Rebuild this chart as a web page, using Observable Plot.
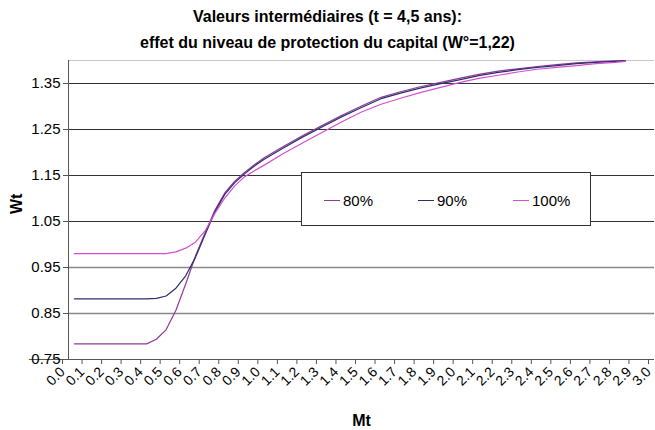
<!DOCTYPE html>
<html>
<head>
<meta charset="utf-8">
<script src="https://cdn.jsdelivr.net/npm/d3@7"></script>
<script src="https://cdn.jsdelivr.net/npm/@observablehq/plot@0.6"></script>
<style>
  html, body { margin: 0; padding: 0; background: #fff; }
  #wrap { position: relative; width: 655px; height: 430px; font-family: "Liberation Sans", Arial, sans-serif; }
  #title { height: 52px; padding-top: 4px; box-sizing: border-box; text-align: center; font-weight: bold; font-size: 16px; line-height: 26px; color: #000; }
  #legend { position: absolute; left: 301px; top: 172px; width: 290px; height: 54px; border: 1px solid #333; background: #fff; box-sizing: border-box; font-size: 15px; }
  .item { position: absolute; top: 0; height: 54px; display: flex; align-items: center; }
  .item span.sw { display: inline-block; width: 16px; height: 0; border-top: 1px solid; margin-right: 3px; }
</style>
</head>
<body>
<div id="wrap">
  <div id="title">Valeurs intermédiaires (t = 4,5 ans):<br>effet du niveau de protection du capital (W°=1,22)</div>
  <div id="chart"></div>
  <div id="legend"></div>
</div>
<script>
const series = ["80%", "90%", "100%"];
const colors = ["#8e3a96", "#2e2e6e", "#d34fd3"];

const mt = [0.03, 0.1, 0.2, 0.3, 0.4, 0.45, 0.5, 0.55, 0.6, 0.65, 0.7, 0.75, 0.8, 0.85, 0.9, 0.95, 1.0,
            1.1, 1.2, 1.3, 1.4, 1.5, 1.6, 1.7, 1.8, 1.9, 2.0, 2.1, 2.2, 2.3, 2.4, 2.5, 2.6, 2.7, 2.8, 2.85];
const w80 = [0.784, 0.784, 0.784, 0.784, 0.784, 0.794, 0.815, 0.857, 0.914, 0.975, 1.026, 1.075, 1.112, 1.137, 1.156, 1.173, 1.188,
             1.213, 1.237, 1.259, 1.281, 1.301, 1.320, 1.332, 1.343, 1.352, 1.361, 1.370, 1.377, 1.382, 1.387, 1.391, 1.395, 1.397, 1.399, 1.400];
const w90 = [0.882, 0.882, 0.882, 0.882, 0.882, 0.883, 0.888, 0.905, 0.932, 0.972, 1.022, 1.071, 1.109, 1.134, 1.153, 1.170, 1.185,
             1.210, 1.234, 1.256, 1.278, 1.298, 1.317, 1.329, 1.340, 1.349, 1.358, 1.367, 1.374, 1.380, 1.385, 1.389, 1.393, 1.396, 1.398, 1.399];
const w100 = [0.980, 0.980, 0.980, 0.980, 0.980, 0.980, 0.980, 0.984, 0.992, 1.005, 1.030, 1.068, 1.101, 1.127, 1.147, 1.160, 1.172,
              1.198, 1.221, 1.244, 1.267, 1.288, 1.305, 1.318, 1.330, 1.341, 1.352, 1.361, 1.368, 1.375, 1.381, 1.385, 1.389, 1.393, 1.396, 1.398];

const xTicks = d3.range(0, 31).map(i => i / 10);
const yTicks = [0.75, 0.85, 0.95, 1.05, 1.15, 1.25, 1.35];
const gridDark = [1.05, 1.15, 1.25, 1.35];
const gridLight = [0.85, 0.95];

const values = [w80, w90, w100];
const data = series.flatMap((s, k) => mt.map((m, i) => ({series: s, mt: m, wt: values[k][i]})));

const chart = Plot.plot({
  width: 655,
  height: 378,
  marginTop: 8,
  marginLeft: 68,
  marginRight: 1,
  marginBottom: 71,
  style: {fontFamily: "'Liberation Sans', Arial, sans-serif", fontSize: "15px", color: "#000", background: "#fff", overflow: "visible"},
  x: {domain: [0, 3]},
  y: {domain: [0.75, 1.40]},
  color: {domain: series, range: colors},
  marks: [
    Plot.ruleY([1.40], {stroke: "#c8c8c8"}),
    Plot.ruleY(gridDark, {stroke: "#333"}),
    Plot.ruleY(gridLight, {stroke: "#888", strokeWidth: 1.5}),
    Plot.line(data, {x: "mt", y: "wt", z: "series", stroke: "series", strokeWidth: 1.2}),
    Plot.ruleX([0], {stroke: "#555"}),
    Plot.ruleY([0.75], {stroke: "#555", x1: -0.2, x2: 3}),
    Plot.axisY({ticks: yTicks, tickFormat: d => d.toFixed(2), tickSize: 5, tickPadding: 3, stroke: "#555", label: null, fontSize: 15}),
    Plot.axisX({ticks: xTicks, tickFormat: d => d.toFixed(1), tickSize: 5, tickPadding: 5, tickRotate: -45, dx: -6, stroke: "#555", label: null, fontSize: 14}),
    Plot.text(["Mt"], {frameAnchor: "bottom", dy: 66, fontWeight: "bold", fontSize: 16}),
    Plot.text(["Wt"], {frameAnchor: "left", dx: -52, dy: 4, rotate: -90, fontWeight: "bold", fontSize: 16})
  ]
});
document.getElementById("chart").appendChild(chart);

const legend = document.getElementById("legend");
const lefts = [22, 116, 211];
series.forEach((s, i) => {
  const it = document.createElement("div");
  it.className = "item";
  it.style.left = lefts[i] + "px";
  it.innerHTML = `<span class="sw" style="border-color:${colors[i]}"></span><span>${s}</span>`;
  legend.appendChild(it);
});
</script>
</body>
</html>
